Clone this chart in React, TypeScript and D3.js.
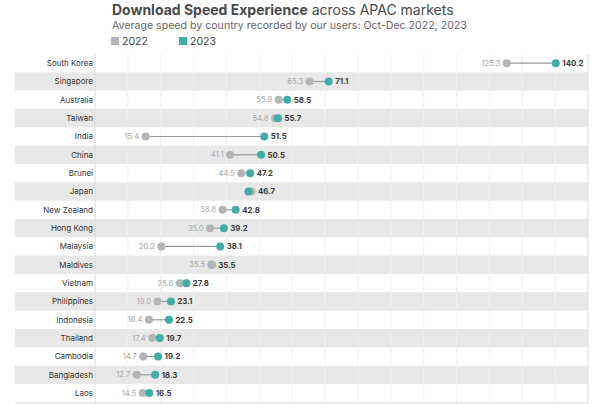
import * as d3 from "d3";

const countries = [
  "South Korea", "Singapore", "Australia", "Taiwan", "India", "China", "Brunei",
  "Japan", "New Zealand", "Hong Kong", "Malaysia", "Maldives", "Vietnam",
  "Philippines", "Indonesia", "Thailand", "Cambodia", "Bangladesh", "Laos",
];
const speed2022 = [125.3, 65.3, 55.9, 54.8, 15.4, 41.1, 44.5, 47.6, 38.8, 35.0, 20.2, 35.5, 25.8, 19.0, 16.4, 17.4, 14.7, 12.7, 14.5];
const speed2023 = [140.2, 71.1, 58.5, 55.7, 51.5, 50.5, 47.2, 46.7, 42.8, 39.2, 38.1, 35.5, 27.8, 23.1, 22.5, 19.7, 19.2, 18.3, 16.5];
const gridTicks = d3.range(0, 151, 10);

const W = 600;
const H = 404;
const GREY = "#b5b5b5";
const TEAL = "#3eb0a3";
const FONT = "Inter, 'Open Sans', sans-serif";

export default function App() {
  const margin = { top: 54, left: 95, right: 12, bandLeft: 15 };
  const rowH = 18.33;

  const x = d3.scaleLinear().domain([0, 150]).range([margin.left, W - margin.right]);
  const y = d3
    .scaleBand<string>()
    .domain(countries)
    .range([margin.top, margin.top + rowH * countries.length]);

  const rows = countries.map((c, i) => ({ c, i, a: speed2022[i], b: speed2023[i] }));
  const bottom = margin.top + rowH * (countries.length + 1);

  return (
    <div style={{ position: "fixed", left: 0, top: 0 }}>
      <svg width={W} height={H} style={{ display: "block", background: "#fff" }}>
        {/* title block */}
        <text x={112} y={15} fontFamily={FONT} fontSize={14} fill="#4a4a4a">
          <tspan fontWeight={700}>Download Speed Experience</tspan>
          <tspan> across APAC markets</tspan>
        </text>
        <text x={112} y={29} fontFamily={FONT} fontSize={10.6} fill="#666">
          Average speed by country recorded by our users: Oct-Dec 2022, 2023
        </text>
        <rect x={111} y={37} width={8} height={8} fill={GREY} />
        <text x={122} y={45} fontFamily={FONT} fontSize={10.5} fill="#444">2022</text>
        <rect x={179} y={37} width={8} height={8} fill={TEAL} />
        <text x={190} y={45} fontFamily={FONT} fontSize={10.5} fill="#444">2023</text>

        {/* alternating bands */}
        {rows
          .filter((r) => r.i % 2 === 1)
          .map((r) => (
            <rect
              key={r.c}
              x={margin.bandLeft}
              y={y(r.c)!}
              width={W - margin.right - margin.bandLeft}
              height={y.bandwidth()}
              fill="#e8e8e8"
            />
          ))}
        {countries.length % 2 === 1 && (
          <rect
            x={margin.bandLeft}
            y={margin.top + rowH * countries.length}
            width={W - margin.right - margin.bandLeft}
            height={rowH}
            fill="#e8e8e8"
          />
        )}

        {/* grid */}
        {gridTicks.map((t) => (
          <line
            key={t}
            x1={x(t)}
            x2={x(t)}
            y1={margin.top}
            y2={bottom}
            stroke={t === 0 || t === 150 ? "#dcdcdc" : "#f0f0f0"}
            strokeWidth={1}
          />
        ))}

        {/* country labels */}
        {rows.map((r) => (
          <text
            key={r.c}
            x={margin.left - 2}
            y={y(r.c)! + y.bandwidth() / 2}
            dy="0.35em"
            textAnchor="end"
            fontFamily={FONT}
            fontSize={8}
            fill="#333"
          >
            {r.c}
          </text>
        ))}

        {/* dumbbells */}
        {rows.map((r) => {
          const cy = y(r.c)! + y.bandwidth() / 2;
          const greyOnTop = r.a === r.b;
          const gDot = <circle key="g" cx={x(r.a)} cy={cy} r={4} fill={GREY} />;
          const tDot = <circle key="t" cx={x(r.b)} cy={cy} r={4} fill={TEAL} />;
          return (
            <g key={r.c}>
              <line x1={x(r.a)} x2={x(r.b)} y1={cy} y2={cy} stroke="#9a9a9a" strokeWidth={1.2} />
              {greyOnTop ? [tDot, gDot] : [gDot, tDot]}
              {r.a <= r.b && (
                <text
                  x={x(r.a) - 6.5}
                  y={cy}
                  dy="0.35em"
                  textAnchor="end"
                  fontFamily={FONT}
                  fontSize={7.6}
                  fill="#a8a8a8"
                >
                  {r.a.toFixed(1)}
                </text>
              )}
              <text
                x={Math.max(x(r.a), x(r.b)) + 6.5}
                y={cy}
                dy="0.35em"
                fontFamily={FONT}
                fontSize={7.8}
                fontWeight={700}
                fill="#3a3a3a"
              >
                {r.b.toFixed(1)}
              </text>
            </g>
          );
        })}
      </svg>
    </div>
  );
}
